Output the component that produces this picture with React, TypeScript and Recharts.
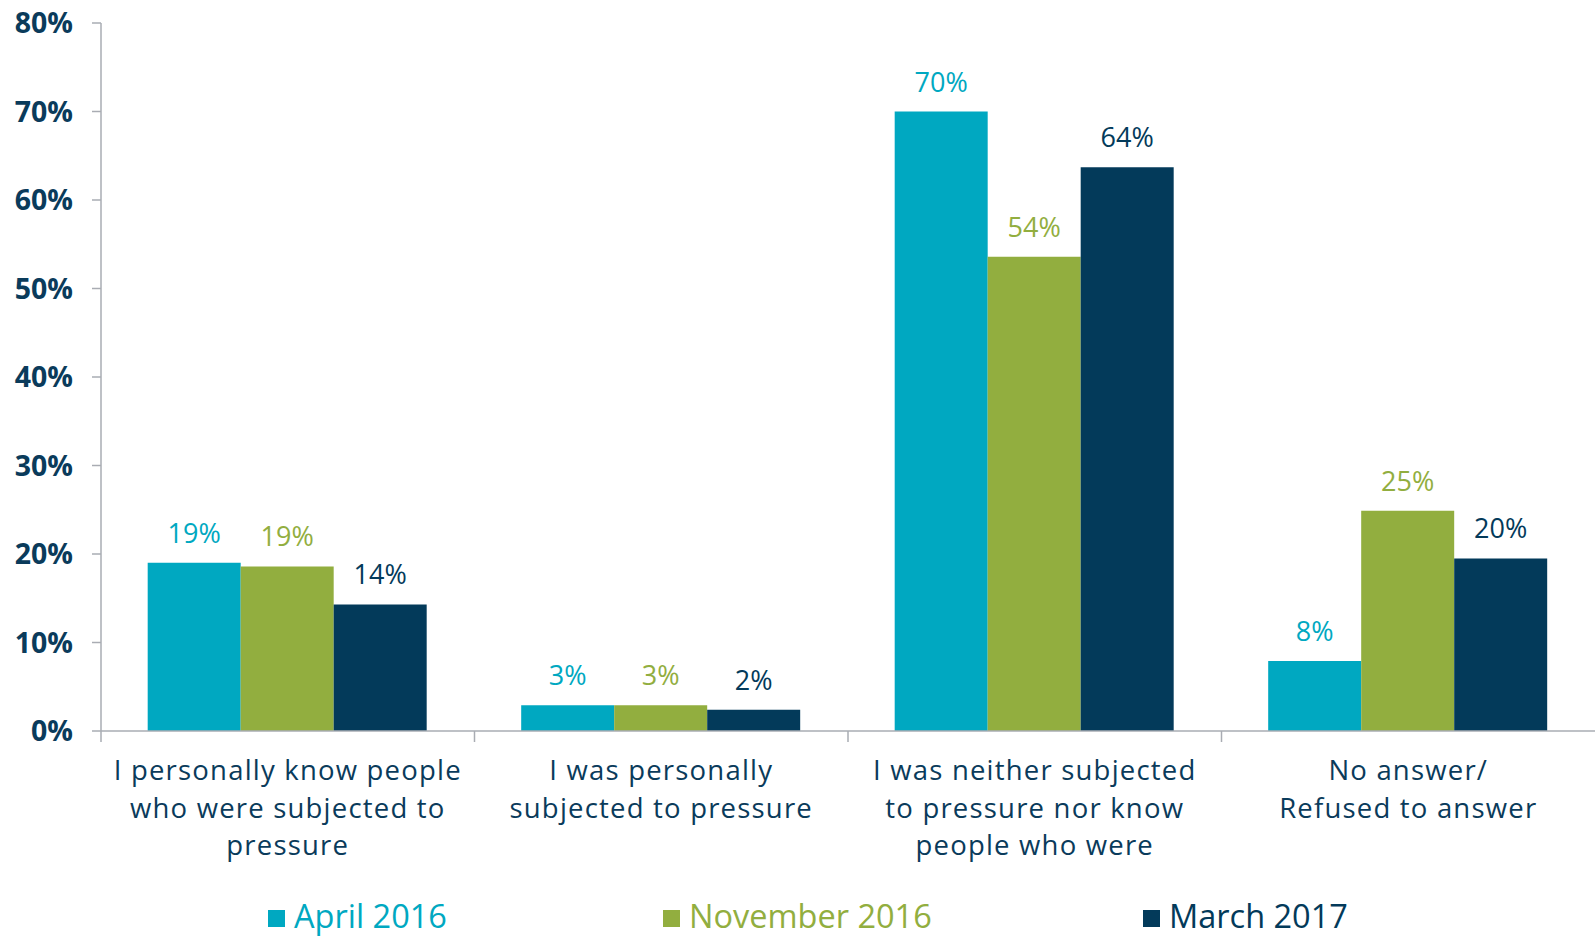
import { BarChart, Bar, XAxis, YAxis, LabelList, Legend } from 'recharts'

const categories = [
  'I personally know people\nwho were subjected to\npressure',
  'I was personally\nsubjected to pressure',
  'I was neither subjected\nto pressure nor know\npeople who were',
  'No answer/\nRefused to answer',
]
const april2016 = [19.0, 2.9, 70.0, 7.9]
const november2016 = [18.6, 2.9, 53.6, 24.9]
const march2017 = [14.3, 2.4, 63.7, 19.5]
const yTicks = [0, 10, 20, 30, 40, 50, 60, 70, 80]

const seriesNames = ['April 2016', 'November 2016', 'March 2017']
const colors = ['#00A8C1', '#92AE3F', '#033A5A']

const data = categories.map((name, i) => ({
  name,
  a: april2016[i],
  n: november2016[i],
  m: march2017[i],
}))

const FONT = '"Open Sans", sans-serif'
const NAVY = '#0A3B5B'
const AXIS = '#A9ACB3'

function CategoryTick(props: any) {
  const { x, y, payload } = props
  const lines = String(payload.value).split('\n')
  const left = x - (payload.offset ?? 0)
  return (
    <g>
      <line x1={left} x2={left} y1={y - 8} y2={y + 3} stroke={AXIS} strokeWidth={1.5} />
      <text
        x={x}
        y={y}
        textAnchor="middle"
        fill={NAVY}
        fontSize={27.5}
        letterSpacing={1.2}
        fontFamily={FONT}
      >
        {lines.map((l, i) => (
          <tspan key={i} x={x} dy={i === 0 ? 41 : 37.6}>
            {l}
          </tspan>
        ))}
      </text>
    </g>
  )
}

const legendLeft = [268, 663, 1143]

// legend is drawn in series order, not sorted
function renderLegend() {
  return (
    <div style={{ position: 'relative', height: 0, width: 1595 }}>
      {seriesNames.map((name, i) => (
        <div
          key={name}
          style={{
            position: 'absolute',
            left: legendLeft[i],
            top: 896,
            display: 'flex',
            alignItems: 'center',
            whiteSpace: 'nowrap',
          }}
        >
          <span style={{ width: 17, height: 17, background: colors[i], marginRight: 9, marginTop: 4 }} />
          <span style={{ color: colors[i], fontSize: 32.5, fontFamily: FONT, lineHeight: '40px' }}>{name}</span>
        </div>
      ))}
    </div>
  )
}

export default function App() {
  const fmt = (v: any) => `${Math.round(Number(v))}%`
  return (
    <div style={{ position: 'absolute', left: 0, top: 0, background: '#fff' }}>
      <BarChart
        width={1595}
        height={936}
        data={data}
        margin={{ top: 23, right: 0, left: 0, bottom: 65 }}
        barCategoryGap="12.5%"
        barGap={0}
      >
        <XAxis
          dataKey="name"
          height={140}
          axisLine={{ stroke: AXIS, strokeWidth: 1.5 }}
          tickLine={false}
          tick={<CategoryTick />}
          interval={0}
        />
        <YAxis
          width={101}
          domain={[0, 80]}
          ticks={yTicks}
          interval={0}
          tickFormatter={(v) => `${v}%`}
          axisLine={{ stroke: AXIS, strokeWidth: 1.5 }}
          tickLine={{ stroke: AXIS, strokeWidth: 1.5 }}
          tickSize={9}
          tickMargin={19}
          tick={{ fill: NAVY, fontSize: 28.5, fontWeight: 700, fontFamily: FONT }}
        />
        <Legend
          content={renderLegend}
          wrapperStyle={{ position: 'absolute', top: 0, left: 0, width: 1595, height: 0 }}
        />
        {(['a', 'n', 'm'] as const).map((key, i) => (
          <Bar key={key} dataKey={key} name={seriesNames[i]} fill={colors[i]} isAnimationActive={false}>
            <LabelList
              dataKey={key}
              position="top"
              offset={20}
              formatter={fmt}
              fill={colors[i]}
              fontSize={27}
              fontFamily={FONT}
            />
          </Bar>
        ))}
      </BarChart>
    </div>
  )
}
